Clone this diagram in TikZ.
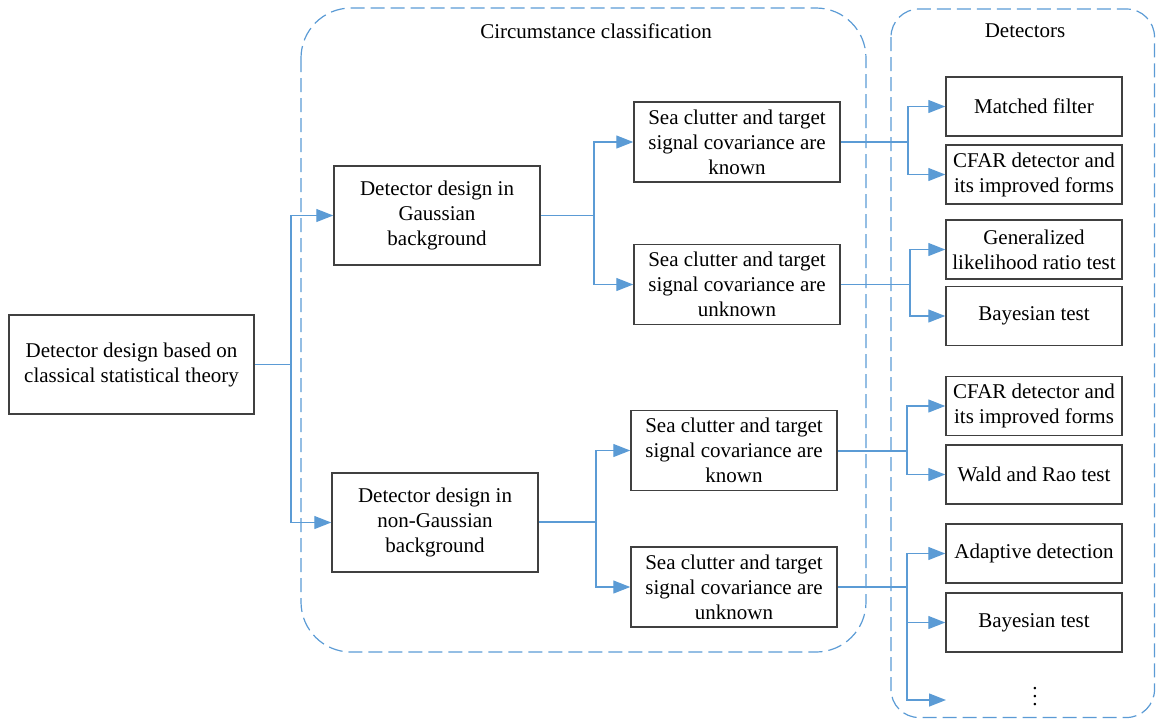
\documentclass[tikz,border=0pt]{standalone}
\usepackage{fontspec}
\setmainfont{Liberation Serif}
\usepackage{tikz}
\usetikzlibrary{arrows.meta,positioning}
\definecolor{lineblue}{RGB}{91,155,213}
\tikzset{
 box/.style={draw=black!75, line width=0.75pt, align=center, inner sep=1pt, font=\fontsize{10.5}{12.5}\selectfont},
 bigbox/.style={box, minimum width=103pt, minimum height=49.5pt},
 midbox/.style={box, minimum width=103pt, minimum height=40pt},
 detbox/.style={box, minimum width=88pt, minimum height=29.5pt},
 title/.style={font=\fontsize{10.5}{12.5}\selectfont},
 link/.style={draw=lineblue, line width=0.65pt},
 arrow/.style={link, -{Triangle[length=8.5pt,width=6.5pt]}},
 group/.style={draw=lineblue, line width=0.6pt, dash pattern=on 7pt off 3pt},
}
\begin{document}
\begin{tikzpicture}[x=0.5pt,y=-0.5pt]
\useasboundingbox (0,0) rectangle (1156,719);
% groups
\draw[group, rounded corners=25pt] (301,8) rectangle (866,652);
\draw[group, rounded corners=14pt] (891,9) rectangle (1154.5,717.5);
\node[title] (cctitle) at (596,31) {Circumstance classification};
\node[title] (dettitle) at (1025,31) {Detectors};
% nodes
\node[box, minimum width=122.5pt, minimum height=49.5pt] (root) at (131.5,364.5) {Detector design based on\\classical statistical theory};
\node[bigbox] (gauss) at (437,215.5) {Detector design in\\Gaussian\\background};
\node[bigbox] (nongauss) at (435,522.5) {Detector design in\\non-Gaussian\\background};
\node[midbox] (known1) at (737,142) {Sea clutter and target\\signal covariance are\\known};
\node[midbox] (unknown1) at (737,284.5) {Sea clutter and target\\signal covariance are\\unknown};
\node[midbox] (known2) at (734,450.5) {Sea clutter and target\\signal covariance are\\known};
\node[midbox] (unknown2) at (734,587) {Sea clutter and target\\signal covariance are\\unknown};
\node[detbox] (mf) at (1034,106.5) {Matched filter};
\node[detbox] (cfar1) at (1034,174.5) {CFAR detector and\\its improved forms};
\node[detbox] (glrt) at (1034,249.5) {Generalized\\likelihood ratio test};
\node[detbox] (bayes1) at (1034,316) {Bayesian test};
\node[detbox] (cfar2) at (1034,406) {CFAR detector and\\its improved forms};
\node[detbox] (wald) at (1034,474.5) {Wald and Rao test};
\node[detbox] (adapt) at (1034,553.5) {Adaptive detection};
\node[detbox] (bayes2) at (1034,622.5) {Bayesian test};
\node[title] (more) at (1035,691) {$\vdots$};
% branch points
\coordinate (b0) at (291,364.5);
\coordinate (b1) at (594,215.5);
\coordinate (b2) at (596,522);
\coordinate (b3) at (908,142);
\coordinate (b4) at (910,284.5);
\coordinate (b5) at (907,451);
\coordinate (b6) at (907,587);
\coordinate (moreend) at (946,700);
% edges
\draw[link] (root) -- (b0);
\draw[arrow] (b0) |- (gauss);
\draw[arrow] (b0) |- (nongauss);
\draw[link] (gauss) -- (b1);
\draw[arrow] (b1) |- (known1);
\draw[arrow] (b1) |- (unknown1);
\draw[link] (nongauss.east |- b2) -- (b2);
\draw[arrow] (b2) |- (known2);
\draw[arrow] (b2) |- (unknown2);
\draw[link] (known1) -- (b3);
\draw[arrow] (b3) |- (mf);
\draw[arrow] (b3) |- (cfar1);
\draw[link] (unknown1) -- (b4);
\draw[arrow] (b4) |- (glrt);
\draw[arrow] (b4) |- (bayes1);
\draw[link] (known2.east |- b5) -- (b5);
\draw[arrow] (b5) |- (cfar2);
\draw[arrow] (b5) |- (wald);
\draw[link] (unknown2) -- (b6);
\draw[arrow] (b6) |- (adapt);
\draw[arrow] (b6) |- (bayes2);
\draw[arrow] (b6) |- (moreend);
\end{tikzpicture}
\end{document}
